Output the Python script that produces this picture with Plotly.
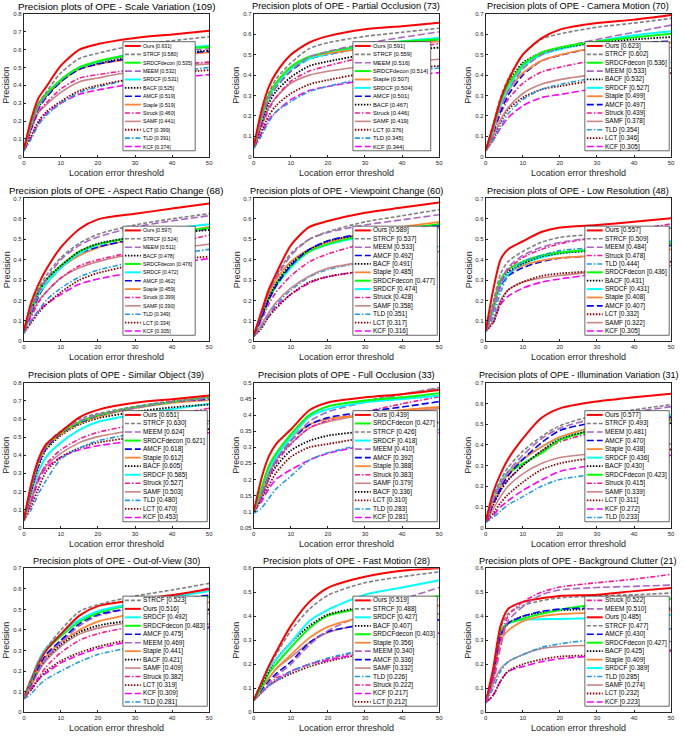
import plotly.graph_objects as go

W, H = 685, 736
THRESHOLDS = [0, 2, 4, 6, 10, 15, 20, 30, 40, 50]

# ---- Scale Variation (109)
sv_trackers = ["Ours", "STRCF", "SRDCFdecon", "MEEM", "SRDCF", "BACF", "AMCF", "Staple", "Struck", "SAMF", "LCT", "TLD", "KCF"]
sv_scores = [0.631, 0.580, 0.535, 0.532, 0.531, 0.525, 0.519, 0.519, 0.460, 0.441, 0.399, 0.391, 0.374]
sv_curves = [
    [0.04, 0.21, 0.33, 0.39, 0.51, 0.60, 0.631, 0.665, 0.685, 0.705],
    [0.04, 0.19, 0.30, 0.36, 0.47, 0.55, 0.580, 0.625, 0.650, 0.672],
    [0.04, 0.19, 0.30, 0.35, 0.43, 0.50, 0.535, 0.575, 0.600, 0.615],
    [0.04, 0.17, 0.28, 0.34, 0.43, 0.50, 0.532, 0.570, 0.590, 0.605],
    [0.04, 0.18, 0.29, 0.35, 0.43, 0.50, 0.531, 0.580, 0.605, 0.622],
    [0.04, 0.17, 0.28, 0.34, 0.43, 0.50, 0.525, 0.560, 0.580, 0.595],
    [0.04, 0.16, 0.27, 0.33, 0.42, 0.49, 0.519, 0.555, 0.575, 0.590],
    [0.04, 0.18, 0.29, 0.34, 0.42, 0.49, 0.519, 0.550, 0.570, 0.585],
    [0.04, 0.15, 0.25, 0.30, 0.38, 0.44, 0.460, 0.490, 0.515, 0.530],
    [0.04, 0.16, 0.25, 0.29, 0.36, 0.42, 0.441, 0.480, 0.505, 0.520],
    [0.04, 0.12, 0.20, 0.25, 0.31, 0.37, 0.399, 0.440, 0.470, 0.485],
    [0.03, 0.10, 0.18, 0.23, 0.30, 0.36, 0.391, 0.440, 0.475, 0.500],
    [0.035, 0.11, 0.19, 0.24, 0.30, 0.35, 0.374, 0.410, 0.440, 0.460],
]

# ---- Partial Occlusion (73)
po_trackers = ["Ours", "STRCF", "MEEM", "SRDCFdecon", "Staple", "SRDCF", "AMCF", "BACF", "Struck", "SAMF", "LCT", "TLD", "KCF"]
po_scores = [0.591, 0.559, 0.516, 0.514, 0.507, 0.504, 0.501, 0.467, 0.446, 0.419, 0.376, 0.345, 0.344]
po_curves = [
    [0.05, 0.22, 0.34, 0.41, 0.50, 0.56, 0.591, 0.625, 0.640, 0.657],
    [0.05, 0.20, 0.31, 0.38, 0.46, 0.53, 0.559, 0.590, 0.610, 0.630],
    [0.05, 0.18, 0.28, 0.34, 0.42, 0.49, 0.516, 0.555, 0.585, 0.612],
    [0.05, 0.19, 0.30, 0.36, 0.44, 0.49, 0.514, 0.545, 0.565, 0.575],
    [0.05, 0.19, 0.30, 0.36, 0.44, 0.49, 0.507, 0.530, 0.550, 0.565],
    [0.05, 0.18, 0.29, 0.35, 0.43, 0.48, 0.504, 0.540, 0.565, 0.583],
    [0.05, 0.17, 0.28, 0.34, 0.42, 0.48, 0.501, 0.535, 0.560, 0.575],
    [0.05, 0.16, 0.26, 0.32, 0.39, 0.445, 0.467, 0.500, 0.520, 0.535],
    [0.05, 0.14, 0.23, 0.29, 0.37, 0.42, 0.446, 0.490, 0.525, 0.555],
    [0.05, 0.15, 0.24, 0.29, 0.36, 0.40, 0.419, 0.445, 0.465, 0.478],
    [0.05, 0.12, 0.20, 0.25, 0.31, 0.355, 0.376, 0.410, 0.430, 0.445],
    [0.04, 0.10, 0.17, 0.22, 0.27, 0.32, 0.345, 0.385, 0.415, 0.435],
    [0.045, 0.11, 0.18, 0.22, 0.28, 0.325, 0.344, 0.375, 0.395, 0.412],
]

# ---- Camera Motion (70)
cm_trackers = ["Ours", "STRCF", "SRDCFdecon", "MEEM", "BACF", "SRDCF", "Staple", "AMCF", "Struck", "SAMF", "TLD", "LCT", "KCF"]
cm_scores = [0.623, 0.602, 0.536, 0.533, 0.532, 0.527, 0.499, 0.497, 0.439, 0.378, 0.354, 0.346, 0.305]
cm_curves = [
    [0.03, 0.15, 0.28, 0.37, 0.50, 0.58, 0.623, 0.655, 0.672, 0.695],
    [0.03, 0.16, 0.29, 0.38, 0.50, 0.575, 0.602, 0.635, 0.655, 0.678],
    [0.03, 0.14, 0.27, 0.35, 0.45, 0.51, 0.536, 0.565, 0.585, 0.603],
    [0.03, 0.13, 0.24, 0.32, 0.43, 0.50, 0.533, 0.575, 0.610, 0.645],
    [0.03, 0.15, 0.28, 0.36, 0.46, 0.51, 0.532, 0.560, 0.575, 0.587],
    [0.03, 0.13, 0.25, 0.33, 0.44, 0.50, 0.527, 0.565, 0.595, 0.615],
    [0.03, 0.14, 0.25, 0.32, 0.41, 0.47, 0.499, 0.535, 0.550, 0.560],
    [0.03, 0.12, 0.22, 0.30, 0.40, 0.47, 0.497, 0.535, 0.555, 0.567],
    [0.03, 0.11, 0.21, 0.28, 0.36, 0.415, 0.439, 0.475, 0.505, 0.535],
    [0.03, 0.10, 0.18, 0.24, 0.31, 0.355, 0.378, 0.405, 0.425, 0.435],
    [0.03, 0.08, 0.15, 0.21, 0.28, 0.33, 0.354, 0.390, 0.430, 0.463],
    [0.03, 0.09, 0.17, 0.23, 0.29, 0.33, 0.346, 0.375, 0.395, 0.410],
    [0.03, 0.08, 0.14, 0.19, 0.25, 0.29, 0.305, 0.335, 0.360, 0.380],
]

# ---- Aspect Ratio Change (68)
ar_trackers = ["Ours", "STRCF", "MEEM", "BACF", "SRDCFdecon", "SRDCF", "AMCF", "Staple", "Struck", "SAMF", "TLD", "LCT", "KCF"]
ar_scores = [0.597, 0.524, 0.511, 0.478, 0.476, 0.472, 0.462, 0.459, 0.399, 0.390, 0.349, 0.334, 0.305]
ar_curves = [
    [0.05, 0.19, 0.28, 0.35, 0.46, 0.55, 0.597, 0.625, 0.650, 0.675],
    [0.05, 0.17, 0.26, 0.32, 0.41, 0.48, 0.524, 0.570, 0.600, 0.625],
    [0.05, 0.15, 0.24, 0.30, 0.40, 0.47, 0.511, 0.560, 0.590, 0.615],
    [0.05, 0.15, 0.24, 0.30, 0.37, 0.44, 0.478, 0.510, 0.530, 0.545],
    [0.05, 0.16, 0.25, 0.30, 0.37, 0.44, 0.476, 0.510, 0.535, 0.555],
    [0.05, 0.15, 0.23, 0.28, 0.36, 0.43, 0.472, 0.515, 0.550, 0.573],
    [0.05, 0.14, 0.22, 0.28, 0.36, 0.43, 0.462, 0.500, 0.530, 0.550],
    [0.05, 0.15, 0.23, 0.28, 0.36, 0.42, 0.459, 0.500, 0.530, 0.560],
    [0.05, 0.12, 0.19, 0.24, 0.31, 0.37, 0.399, 0.440, 0.480, 0.520],
    [0.05, 0.13, 0.20, 0.24, 0.31, 0.36, 0.390, 0.430, 0.455, 0.475],
    [0.04, 0.10, 0.15, 0.20, 0.26, 0.315, 0.349, 0.390, 0.425, 0.450],
    [0.04, 0.09, 0.14, 0.18, 0.24, 0.30, 0.334, 0.375, 0.400, 0.415],
    [0.04, 0.10, 0.15, 0.18, 0.23, 0.28, 0.305, 0.340, 0.380, 0.405],
]

# ---- Viewpoint Change (60)
vc_trackers = ["Ours", "STRCF", "MEEM", "AMCF", "BACF", "Staple", "SRDCFdecon", "SRDCF", "Struck", "SAMF", "TLD", "LCT", "KCF"]
vc_scores = [0.589, 0.537, 0.533, 0.492, 0.491, 0.485, 0.477, 0.474, 0.428, 0.358, 0.351, 0.317, 0.316]
vc_curves = [
    [0.03, 0.14, 0.25, 0.33, 0.47, 0.56, 0.589, 0.630, 0.655, 0.680],
    [0.03, 0.14, 0.25, 0.32, 0.43, 0.50, 0.537, 0.585, 0.615, 0.645],
    [0.03, 0.13, 0.24, 0.31, 0.42, 0.50, 0.533, 0.570, 0.595, 0.620],
    [0.03, 0.11, 0.20, 0.27, 0.37, 0.45, 0.492, 0.530, 0.550, 0.565],
    [0.03, 0.12, 0.21, 0.28, 0.38, 0.45, 0.491, 0.525, 0.545, 0.560],
    [0.03, 0.13, 0.23, 0.30, 0.39, 0.45, 0.485, 0.530, 0.560, 0.585],
    [0.03, 0.12, 0.21, 0.28, 0.37, 0.44, 0.477, 0.520, 0.550, 0.575],
    [0.03, 0.11, 0.20, 0.27, 0.36, 0.44, 0.474, 0.515, 0.545, 0.570],
    [0.03, 0.10, 0.18, 0.24, 0.32, 0.39, 0.428, 0.480, 0.520, 0.555],
    [0.03, 0.08, 0.14, 0.19, 0.26, 0.32, 0.358, 0.390, 0.420, 0.440],
    [0.025, 0.07, 0.13, 0.18, 0.25, 0.315, 0.351, 0.390, 0.430, 0.465],
    [0.025, 0.06, 0.12, 0.16, 0.23, 0.29, 0.317, 0.345, 0.365, 0.380],
    [0.025, 0.07, 0.12, 0.17, 0.23, 0.285, 0.316, 0.345, 0.365, 0.385],
]

# ---- Low Resolution (48)
lr_trackers = ["Ours", "STRCF", "MEEM", "Struck", "TLD", "SRDCFdecon", "BACF", "SRDCF", "Staple", "AMCF", "LCT", "SAMF", "KCF"]
lr_scores = [0.557, 0.509, 0.484, 0.478, 0.444, 0.436, 0.431, 0.431, 0.408, 0.407, 0.332, 0.322, 0.305]
lr_curves = [
    [0.05, 0.25, 0.40, 0.45, 0.49, 0.535, 0.557, 0.570, 0.585, 0.603],
    [0.05, 0.19, 0.33, 0.39, 0.44, 0.485, 0.509, 0.525, 0.540, 0.555],
    [0.05, 0.16, 0.29, 0.36, 0.42, 0.46, 0.484, 0.510, 0.535, 0.560],
    [0.05, 0.15, 0.28, 0.35, 0.41, 0.45, 0.478, 0.510, 0.545, 0.575],
    [0.05, 0.12, 0.24, 0.32, 0.39, 0.42, 0.444, 0.460, 0.480, 0.500],
    [0.05, 0.17, 0.30, 0.35, 0.39, 0.42, 0.436, 0.450, 0.465, 0.480],
    [0.05, 0.18, 0.30, 0.34, 0.38, 0.415, 0.431, 0.445, 0.460, 0.470],
    [0.05, 0.15, 0.28, 0.33, 0.38, 0.41, 0.431, 0.450, 0.470, 0.490],
    [0.05, 0.15, 0.28, 0.33, 0.37, 0.395, 0.408, 0.420, 0.435, 0.450],
    [0.05, 0.15, 0.27, 0.32, 0.36, 0.39, 0.407, 0.420, 0.445, 0.470],
    [0.05, 0.09, 0.19, 0.25, 0.29, 0.32, 0.332, 0.345, 0.365, 0.390],
    [0.05, 0.10, 0.20, 0.25, 0.29, 0.31, 0.322, 0.340, 0.355, 0.370],
    [0.05, 0.09, 0.18, 0.22, 0.26, 0.29, 0.305, 0.330, 0.350, 0.365],
]

# ---- Similar Object (39)
so_trackers = ["Ours", "STRCF", "MEEM", "SRDCFdecon", "AMCF", "Staple", "BACF", "SRDCF", "Struck", "SAMF", "TLD", "LCT", "KCF"]
so_scores = [0.651, 0.630, 0.624, 0.621, 0.618, 0.612, 0.605, 0.585, 0.527, 0.503, 0.480, 0.470, 0.453]
so_curves = [
    [0.04, 0.24, 0.38, 0.46, 0.53, 0.61, 0.651, 0.690, 0.710, 0.730],
    [0.04, 0.24, 0.38, 0.46, 0.535, 0.60, 0.630, 0.670, 0.700, 0.720],
    [0.04, 0.22, 0.36, 0.45, 0.53, 0.59, 0.624, 0.660, 0.695, 0.715],
    [0.04, 0.23, 0.37, 0.45, 0.525, 0.585, 0.621, 0.665, 0.695, 0.720],
    [0.04, 0.21, 0.35, 0.44, 0.52, 0.58, 0.618, 0.665, 0.695, 0.710],
    [0.04, 0.22, 0.36, 0.44, 0.515, 0.575, 0.612, 0.660, 0.690, 0.705],
    [0.04, 0.20, 0.34, 0.43, 0.51, 0.57, 0.605, 0.640, 0.665, 0.680],
    [0.04, 0.19, 0.31, 0.39, 0.47, 0.54, 0.585, 0.625, 0.655, 0.685],
    [0.04, 0.15, 0.27, 0.35, 0.43, 0.49, 0.527, 0.570, 0.620, 0.660],
    [0.04, 0.16, 0.28, 0.34, 0.41, 0.47, 0.503, 0.540, 0.570, 0.590],
    [0.04, 0.10, 0.19, 0.26, 0.38, 0.44, 0.480, 0.520, 0.550, 0.575],
    [0.04, 0.12, 0.22, 0.31, 0.39, 0.44, 0.470, 0.500, 0.525, 0.545],
    [0.04, 0.14, 0.26, 0.33, 0.39, 0.43, 0.453, 0.480, 0.505, 0.525],
]

# ---- Full Occlusion (33)
fo_trackers = ["Ours", "SRDCFdecon", "STRCF", "SRDCF", "MEEM", "AMCF", "Staple", "Struck", "SAMF", "BACF", "LCT", "TLD", "KCF"]
fo_scores = [0.439, 0.427, 0.426, 0.418, 0.410, 0.392, 0.388, 0.383, 0.379, 0.336, 0.310, 0.283, 0.281]
fo_curves = [
    [0.10, 0.20, 0.27, 0.31, 0.355, 0.415, 0.439, 0.455, 0.465, 0.478],
    [0.10, 0.17, 0.24, 0.28, 0.34, 0.40, 0.427, 0.445, 0.455, 0.468],
    [0.10, 0.17, 0.24, 0.28, 0.34, 0.40, 0.426, 0.445, 0.465, 0.483],
    [0.10, 0.17, 0.23, 0.27, 0.33, 0.395, 0.418, 0.440, 0.450, 0.460],
    [0.10, 0.15, 0.21, 0.26, 0.32, 0.38, 0.410, 0.440, 0.465, 0.485],
    [0.10, 0.15, 0.21, 0.26, 0.32, 0.37, 0.392, 0.410, 0.425, 0.442],
    [0.10, 0.16, 0.22, 0.27, 0.33, 0.37, 0.388, 0.400, 0.415, 0.425],
    [0.10, 0.14, 0.20, 0.25, 0.31, 0.36, 0.383, 0.410, 0.435, 0.457],
    [0.10, 0.15, 0.21, 0.26, 0.31, 0.36, 0.379, 0.400, 0.410, 0.420],
    [0.10, 0.14, 0.20, 0.24, 0.29, 0.32, 0.336, 0.350, 0.365, 0.378],
    [0.10, 0.14, 0.18, 0.22, 0.27, 0.30, 0.310, 0.330, 0.355, 0.375],
    [0.095, 0.11, 0.14, 0.17, 0.21, 0.26, 0.283, 0.310, 0.335, 0.355],
    [0.10, 0.13, 0.17, 0.20, 0.23, 0.26, 0.281, 0.305, 0.325, 0.345],
]

# ---- Illumination Variation (31)
iv_trackers = ["Ours", "STRCF", "MEEM", "AMCF", "Staple", "SRDCF", "BACF", "SRDCFdecon", "Struck", "SAMF", "LCT", "KCF", "TLD"]
iv_scores = [0.577, 0.493, 0.481, 0.470, 0.438, 0.436, 0.430, 0.423, 0.415, 0.339, 0.311, 0.272, 0.233]
iv_curves = [
    [0.03, 0.17, 0.26, 0.33, 0.43, 0.53, 0.577, 0.610, 0.630, 0.648],
    [0.03, 0.15, 0.23, 0.29, 0.37, 0.44, 0.493, 0.545, 0.570, 0.595],
    [0.03, 0.13, 0.21, 0.27, 0.35, 0.43, 0.481, 0.530, 0.560, 0.585],
    [0.03, 0.12, 0.19, 0.25, 0.33, 0.41, 0.470, 0.510, 0.525, 0.535],
    [0.03, 0.13, 0.20, 0.26, 0.33, 0.39, 0.438, 0.490, 0.510, 0.525],
    [0.03, 0.15, 0.22, 0.27, 0.33, 0.39, 0.436, 0.490, 0.525, 0.545],
    [0.03, 0.11, 0.18, 0.23, 0.30, 0.37, 0.430, 0.475, 0.495, 0.505],
    [0.03, 0.14, 0.21, 0.26, 0.31, 0.36, 0.423, 0.475, 0.505, 0.520],
    [0.03, 0.11, 0.18, 0.23, 0.30, 0.37, 0.415, 0.465, 0.500, 0.530],
    [0.03, 0.09, 0.15, 0.20, 0.26, 0.31, 0.339, 0.360, 0.385, 0.405],
    [0.03, 0.07, 0.12, 0.16, 0.22, 0.28, 0.311, 0.340, 0.360, 0.378],
    [0.03, 0.06, 0.10, 0.13, 0.18, 0.23, 0.272, 0.305, 0.330, 0.350],
    [0.025, 0.05, 0.08, 0.11, 0.15, 0.20, 0.233, 0.260, 0.290, 0.325],
]

# ---- Out-of-View (30)
ov_trackers = ["STRCF", "Ours", "SRDCF", "SRDCFdecon", "AMCF", "MEEM", "Staple", "BACF", "SAMF", "Struck", "LCT", "KCF", "TLD"]
ov_scores = [0.523, 0.516, 0.492, 0.483, 0.475, 0.469, 0.441, 0.421, 0.409, 0.382, 0.319, 0.309, 0.281]
ov_curves = [
    [0.07, 0.16, 0.25, 0.31, 0.40, 0.49, 0.523, 0.565, 0.595, 0.627],
    [0.07, 0.16, 0.24, 0.30, 0.38, 0.47, 0.516, 0.545, 0.570, 0.600],
    [0.07, 0.16, 0.25, 0.31, 0.38, 0.45, 0.492, 0.530, 0.560, 0.590],
    [0.07, 0.15, 0.24, 0.30, 0.37, 0.44, 0.483, 0.525, 0.545, 0.560],
    [0.07, 0.14, 0.22, 0.28, 0.35, 0.43, 0.475, 0.510, 0.545, 0.570],
    [0.07, 0.13, 0.20, 0.26, 0.34, 0.42, 0.469, 0.510, 0.560, 0.605],
    [0.07, 0.14, 0.22, 0.27, 0.34, 0.40, 0.441, 0.480, 0.510, 0.535],
    [0.07, 0.14, 0.21, 0.26, 0.33, 0.39, 0.421, 0.450, 0.480, 0.500],
    [0.07, 0.13, 0.20, 0.25, 0.32, 0.38, 0.409, 0.440, 0.460, 0.480],
    [0.07, 0.12, 0.17, 0.22, 0.29, 0.35, 0.382, 0.420, 0.460, 0.500],
    [0.07, 0.11, 0.16, 0.20, 0.25, 0.29, 0.319, 0.360, 0.400, 0.430],
    [0.07, 0.11, 0.16, 0.19, 0.24, 0.28, 0.309, 0.350, 0.380, 0.415],
    [0.065, 0.09, 0.13, 0.16, 0.20, 0.245, 0.281, 0.320, 0.370, 0.410],
]

# ---- Fast Motion (28)
fm_trackers = ["Ours", "STRCF", "SRDCF", "BACF", "SRDCFdecon", "Staple", "MEEM", "AMCF", "SAMF", "TLD", "Struck", "KCF", "LCT"]
fm_scores = [0.519, 0.488, 0.427, 0.407, 0.403, 0.356, 0.340, 0.336, 0.332, 0.226, 0.222, 0.217, 0.212]
fm_curves = [
    [0.05, 0.12, 0.19, 0.25, 0.36, 0.46, 0.519, 0.565, 0.590, 0.600],
    [0.05, 0.12, 0.19, 0.24, 0.34, 0.43, 0.488, 0.540, 0.565, 0.585],
    [0.05, 0.12, 0.18, 0.22, 0.29, 0.38, 0.427, 0.490, 0.520, 0.550],
    [0.05, 0.11, 0.17, 0.22, 0.29, 0.36, 0.407, 0.440, 0.460, 0.470],
    [0.05, 0.10, 0.16, 0.20, 0.27, 0.35, 0.403, 0.435, 0.460, 0.485],
    [0.05, 0.10, 0.14, 0.18, 0.24, 0.31, 0.356, 0.400, 0.430, 0.445],
    [0.05, 0.08, 0.12, 0.15, 0.20, 0.28, 0.340, 0.410, 0.470, 0.520],
    [0.05, 0.09, 0.13, 0.16, 0.21, 0.29, 0.336, 0.365, 0.380, 0.385],
    [0.05, 0.10, 0.14, 0.18, 0.23, 0.29, 0.332, 0.370, 0.395, 0.410],
    [0.05, 0.08, 0.11, 0.13, 0.17, 0.20, 0.226, 0.260, 0.290, 0.310],
    [0.05, 0.08, 0.11, 0.14, 0.17, 0.20, 0.222, 0.260, 0.300, 0.330],
    [0.05, 0.08, 0.11, 0.13, 0.17, 0.20, 0.217, 0.250, 0.280, 0.315],
    [0.05, 0.08, 0.11, 0.13, 0.16, 0.19, 0.212, 0.245, 0.270, 0.285],
]

# ---- Background Clutter (21)
bc_trackers = ["Struck", "MEEM", "Ours", "STRCF", "AMCF", "SRDCFdecon", "BACF", "Staple", "SRDCF", "TLD", "SAMF", "LCT", "KCF"]
bc_scores = [0.522, 0.510, 0.485, 0.477, 0.430, 0.427, 0.425, 0.409, 0.389, 0.285, 0.274, 0.232, 0.223]
bc_curves = [
    [0.04, 0.14, 0.30, 0.40, 0.46, 0.50, 0.522, 0.540, 0.555, 0.575],
    [0.04, 0.12, 0.27, 0.38, 0.44, 0.49, 0.510, 0.520, 0.525, 0.530],
    [0.04, 0.18, 0.36, 0.43, 0.46, 0.475, 0.485, 0.490, 0.505, 0.518],
    [0.04, 0.17, 0.35, 0.41, 0.445, 0.465, 0.477, 0.485, 0.490, 0.497],
    [0.04, 0.15, 0.32, 0.37, 0.40, 0.42, 0.430, 0.435, 0.440, 0.440],
    [0.04, 0.17, 0.34, 0.37, 0.39, 0.41, 0.427, 0.450, 0.465, 0.473],
    [0.04, 0.16, 0.32, 0.37, 0.40, 0.415, 0.425, 0.430, 0.430, 0.433],
    [0.04, 0.14, 0.30, 0.34, 0.38, 0.40, 0.409, 0.415, 0.420, 0.425],
    [0.04, 0.16, 0.34, 0.37, 0.385, 0.388, 0.389, 0.392, 0.398, 0.405],
    [0.04, 0.10, 0.17, 0.21, 0.24, 0.27, 0.285, 0.305, 0.325, 0.348],
    [0.04, 0.12, 0.18, 0.21, 0.24, 0.265, 0.274, 0.280, 0.285, 0.295],
    [0.04, 0.07, 0.13, 0.17, 0.20, 0.22, 0.232, 0.238, 0.245, 0.260],
    [0.04, 0.07, 0.13, 0.17, 0.19, 0.21, 0.223, 0.235, 0.245, 0.255],
]

PANELS = [
    ("Scale Variation (109)", sv_trackers, sv_scores, sv_curves, 0, 0.8, 0.1),
    ("Partial Occlusion (73)", po_trackers, po_scores, po_curves, 0, 0.7, 0.1),
    ("Camera Motion (70)", cm_trackers, cm_scores, cm_curves, 0, 0.7, 0.1),
    ("Aspect Ratio Change (68)", ar_trackers, ar_scores, ar_curves, 0, 0.7, 0.1),
    ("Viewpoint Change (60)", vc_trackers, vc_scores, vc_curves, 0, 0.7, 0.1),
    ("Low Resolution (48)", lr_trackers, lr_scores, lr_curves, 0, 0.7, 0.1),
    ("Similar Object (39)", so_trackers, so_scores, so_curves, 0, 0.8, 0.1),
    ("Full Occlusion (33)", fo_trackers, fo_scores, fo_curves, 0.05, 0.5, 0.05),
    ("Illumination Variation (31)", iv_trackers, iv_scores, iv_curves, 0, 0.7, 0.1),
    ("Out-of-View (30)", ov_trackers, ov_scores, ov_curves, 0, 0.7, 0.1),
    ("Fast Motion (28)", fm_trackers, fm_scores, fm_curves, 0, 0.6, 0.1),
    ("Background Clutter (21)", bc_trackers, bc_scores, bc_curves, 0, 0.6, 0.1),
]

# colour, dash, width
STYLE = {
    "Ours": ("#ff0000", "solid", 2.0),
    "STRCF": ("#808080", "4px,2px", 1.6),
    "SRDCFdecon": ("#00ff00", "solid", 2.0),
    "MEEM": ("#a964c6", "7px,3px", 1.6),
    "SRDCF": ("#00ffff", "solid", 2.0),
    "BACF": ("#000000", "1.5px,1.5px", 1.8),
    "AMCF": ("#0000ff", "7px,3px", 1.6),
    "Staple": ("#ff8533", "solid", 1.8),
    "Struck": ("#ff1493", "5px,2px,1.5px,2px", 1.6),
    "SAMF": ("#c98484", "solid", 1.6),
    "LCT": ("#8b0000", "1.5px,1.5px", 1.8),
    "TLD": ("#1e9be6", "5px,2px,1.5px,2px", 1.6),
    "KCF": ("#ff00ff", "7px,3px", 1.6),
}

FONT = "Liberation Sans, Arial, sans-serif"
INK = "#262626"
COL_X = [(22, 209), (254, 441), (488, 675)]
ROW_Y = [(11, 155), (197, 341), (383, 529), (570, 715)]
LEG_FS = [5.2, 5.8, 6.5, 5.2, 6.5, 6.5, 6.5, 6.5, 6.5, 6.5, 6.5, 6.5]
TITLE_FS = [9.8, 9.2, 9.2, 9.6, 9.2, 9.2, 9.2, 9.2, 9, 9.2, 9.2, 9.2]


def text_w(s, fs):
    w = 0
    for ch in s:
        if ch in "iljI.[] ":
            w += 0.25
        elif ch in "rtf(":
            w += 0.32
        elif ch.isupper():
            w += 0.69
        else:
            w += 0.55
    return w * fs


def fx(p):
    return p / W


def fy(p):
    return 1 - p / H


fig = go.Figure()
shapes, annotations = [], []

for k, (name, trackers, scores, curves, y0, y1, dt) in enumerate(PANELS):
    r, c = divmod(k, 3)
    xl, xr = COL_X[c]
    yt, yb = ROW_Y[r]
    sfx = "" if k == 0 else str(k + 1)

    fig.update_layout({
        f"xaxis{sfx}": dict(domain=[fx(xl), fx(xr)], anchor=f"y{sfx}", range=[0, 50],
                            tickvals=[0, 10, 20, 30, 40, 50], ticks="inside", ticklen=2,
                            tickcolor=INK, showline=True, mirror=True, linecolor=INK,
                            linewidth=0.8, showgrid=False, zeroline=False,
                            tickfont=dict(size=6, color=INK, family=FONT)),
        f"yaxis{sfx}": dict(domain=[fy(yb), fy(yt)], anchor=f"x{sfx}", range=[y0, y1],
                            tick0=y0, dtick=dt, ticks="inside", ticklen=2,
                            tickcolor=INK, showline=True, mirror=True, linecolor=INK,
                            linewidth=0.8, showgrid=False, zeroline=False,
                            tickfont=dict(size=6, color=INK, family=FONT)),
    })

    # draw lowest-ranked first so the leaders sit on top
    for trk, curve in reversed(list(zip(trackers, curves))):
        color, dash, width = STYLE[trk]
        fig.add_trace(go.Scatter(
            x=THRESHOLDS, y=curve, mode="lines", showlegend=False, hoverinfo="skip",
            line=dict(color=color, dash=dash, width=width, shape="spline", smoothing=0.7),
            xaxis=f"x{sfx}", yaxis=f"y{sfx}",
        ))

    cx = (xl + xr) / 2
    tfs = TITLE_FS[k]
    title = f"Precision plots of OPE - {name}"
    tw = text_w(title, tfs)
    tx = max(cx, 2 + tw / 2)
    annotations.append(dict(text=title, x=fx(tx), y=fy(yt - 7.5),
                            xref="paper", yref="paper", showarrow=False, xanchor="center",
                            yanchor="middle", font=dict(size=tfs, color="#000000", family=FONT)))
    annotations.append(dict(text="Location error threshold", x=fx(cx), y=fy(yb + 16),
                            xref="paper", yref="paper", showarrow=False, xanchor="center",
                            yanchor="middle", font=dict(size=9, color=INK, family=FONT)))
    annotations.append(dict(text="Precision", x=fx(xl - 17.5), y=fy((yt + yb) / 2), textangle=-90,
                            xref="paper", yref="paper", showarrow=False, xanchor="center",
                            yanchor="middle", font=dict(size=9, color=INK, family=FONT)))

    # in-axes legend box
    lfs = LEG_FS[k]
    labels = [f"{t} [{s:.3f}]" for t, s in zip(trackers, scores)]
    bl = xl + 100
    bt = yt + 28
    bb = yb - 6
    bw = 21 + max(text_w(s, lfs) for s in labels) + 3
    shapes.append(dict(type="rect", xref="paper", yref="paper", x0=fx(bl), x1=fx(bl + bw),
                       y0=fy(bb), y1=fy(bt), fillcolor="#ffffff",
                       line=dict(color=INK, width=0.7), layer="above"))
    step = (bb - bt - 8.6) / (len(labels) - 1)
    for i, (trk, lab) in enumerate(zip(trackers, labels)):
        color, dash, width = STYLE[trk]
        ey = bt + 4.3 + i * step
        shapes.append(dict(type="line", xref="paper", yref="paper", x0=fx(bl + 2), x1=fx(bl + 18),
                           y0=fy(ey), y1=fy(ey), line=dict(color=color, dash=dash, width=width),
                           layer="above"))
        annotations.append(dict(text=lab, x=fx(bl + 19), y=fy(ey), xref="paper", yref="paper",
                                showarrow=False, xanchor="left", yanchor="middle", borderpad=0,
                                font=dict(size=lfs, color="#000000", family=FONT)))

fig.update_layout(
    width=W, height=H, margin=dict(l=0, r=0, t=0, b=0),
    paper_bgcolor="#ffffff", plot_bgcolor="#ffffff",
    shapes=shapes, annotations=annotations, showlegend=False,
)

# the page body has a default 8px margin; drop it so the figure fills the window
fig.write_html("out.html", config={"displayModeBar": False},
               post_script="document.body.style.margin='0';document.body.style.overflow='hidden';")
